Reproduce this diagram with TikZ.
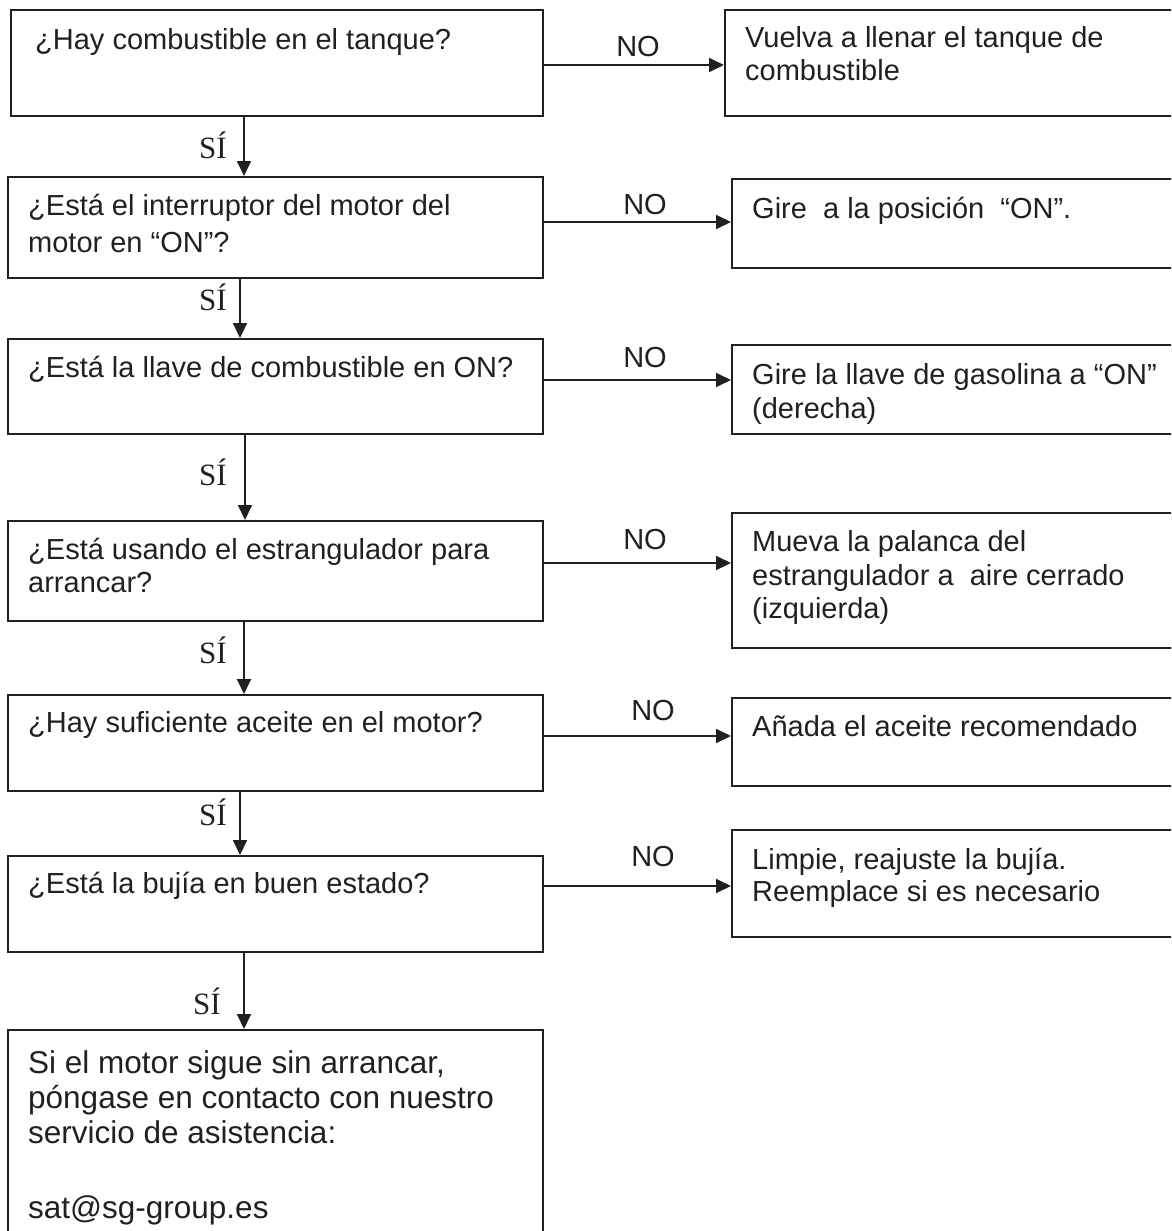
\documentclass[tikz,border=0pt]{standalone}
\usepackage{fontspec}
\setmainfont{Liberation Sans}
\newfontfamily\sifont{Liberation Serif}
\usetikzlibrary{arrows.meta}
\definecolor{ink}{HTML}{231F20}
\tikzset{
  box/.style={draw=ink, line width=1.8pt, anchor=north west, inner sep=0pt},
  txt/.style={anchor=base west, inner sep=0pt, text=ink, font=\fontsize{29}{34}\selectfont},
  bigtxt/.style={anchor=base west, inner sep=0pt, text=ink, font=\fontsize{31.5}{35}\selectfont},
  nolab/.style={inner sep=0pt, text=ink, font=\fontsize{29}{34}\selectfont},
  silab/.style={inner sep=0pt, text=ink, font=\sifont\fontsize{31}{34}\selectfont},
  arr/.style={draw=ink, line width=1.8pt, -{Triangle[length=15pt,width=14pt]}}
}
\begin{document}
\begin{tikzpicture}[x=1pt,y=-1pt]
\useasboundingbox (0,0) rectangle (1171,1231);
\clip (0,0) rectangle (1171,1231);
% left boxes
\node[box, minimum width=532pt, minimum height=106pt] (b1) at (10,9) {};
\node[box, minimum width=535pt, minimum height=101pt] (b2) at (7,176) {};
\node[box, minimum width=535pt, minimum height=95pt] (b3) at (7,338) {};
\node[box, minimum width=535pt, minimum height=100pt] (b4) at (7,520) {};
\node[box, minimum width=535pt, minimum height=96pt] (b5) at (7,694) {};
\node[box, minimum width=535pt, minimum height=96pt] (b6) at (7,855) {};
\node[box, minimum width=535pt, minimum height=230pt] (b7) at (7,1029) {};
% right boxes
\node[box, minimum width=470pt, minimum height=106pt] (r1) at (724,9) {};
\node[box, minimum width=460pt, minimum height=89pt] (r2) at (731,178) {};
\node[box, minimum width=460pt, minimum height=89pt] (r3) at (731,344) {};
\node[box, minimum width=460pt, minimum height=135pt] (r4) at (731,512) {};
\node[box, minimum width=460pt, minimum height=88pt] (r5) at (731,697) {};
\node[box, minimum width=460pt, minimum height=107pt] (r6) at (731,829) {};
% texts left
\node[txt] (t1) at (35,50) {¿Hay combustible en el tanque?};
\node[txt] (t2a) at (28,215) {¿Está el interruptor del motor del};
\node[txt] (t2b) at (28,252) {motor en “ON”?};
\node[txt] (t3) at (28,377) {¿Está la llave de combustible en ON?};
\node[txt] (t4a) at (28,559) {¿Está usando el estrangulador para};
\node[txt] (t4b) at (28,592) {arrancar?};
\node[txt] (t5) at (28,732) {¿Hay suficiente aceite en el motor?};
\node[txt] (t6) at (28,893) {¿Está la bujía en buen estado?};
\node[bigtxt] (t7a) at (28,1073) {Si el motor sigue sin arrancar,};
\node[bigtxt] (t7b) at (28,1108) {póngase en contacto con nuestro};
\node[bigtxt] (t7c) at (28,1143) {servicio de asistencia:};
\node[bigtxt] (t7d) at (28,1218) {sat@sg-group.es};
% texts right
\node[txt] (s1a) at (745,48) {Vuelva a llenar el tanque de};
\node[txt] (s1b) at (745,81) {combustible};
\node[txt] (s2) at (752,218) {Gire~ a la posición~ “ON”.};
\node[txt] (s3a) at (752,384) {Gire la llave de gasolina a “ON”};
\node[txt] (s3b) at (752,418) {(derecha)};
\node[txt] (s4a) at (752,551) {Mueva la palanca del};
\node[txt] (s4b) at (752,585) {estrangulador a~ aire cerrado};
\node[txt] (s4c) at (752,618) {(izquierda)};
\node[txt] (s5) at (752,736) {Añada el aceite recomendado};
\node[txt] (s6a) at (752,869) {Limpie, reajuste la bujía.};
\node[txt] (s6b) at (752,901) {Reemplace si es necesario};
% NO arrows
\draw[arr] (b1.east |- 0,65) -- (r1.west |- 0,65);
\draw[arr] (b2.east |- 0,222) -- (r2.west |- 0,222);
\draw[arr] (b3.east |- 0,380) -- (r3.west |- 0,380);
\draw[arr] (b4.east |- 0,563) -- (r4.west |- 0,563);
\draw[arr] (b5.east |- 0,736) -- (r5.west |- 0,736);
\draw[arr] (b6.east |- 0,886) -- (r6.west |- 0,886);
\node[nolab] (n1) at (638,47) {NO};
\node[nolab] (n2) at (645,205) {NO};
\node[nolab] (n3) at (645,358) {NO};
\node[nolab] (n4) at (645,540) {NO};
\node[nolab] (n5) at (653,711) {NO};
\node[nolab] (n6) at (653,857) {NO};
% SI arrows
\draw[arr] (b1.south -| 244,0) -- (b2.north -| 244,0);
\draw[arr] (b2.south -| 240,0) -- (b3.north -| 240,0);
\draw[arr] (b3.south -| 245,0) -- (b4.north -| 245,0);
\draw[arr] (b4.south -| 244,0) -- (b5.north -| 244,0);
\draw[arr] (b5.south -| 240,0) -- (b6.north -| 240,0);
\draw[arr] (b6.south -| 244,0) -- (b7.north -| 244,0);
\node[silab] (y1) at (213,145) {SÍ};
\node[silab] (y2) at (213,297) {SÍ};
\node[silab] (y3) at (213,472) {SÍ};
\node[silab] (y4) at (213,650) {SÍ};
\node[silab] (y5) at (213,812) {SÍ};
\node[silab] (y6) at (207,1001) {SÍ};
\end{tikzpicture}
\end{document}
